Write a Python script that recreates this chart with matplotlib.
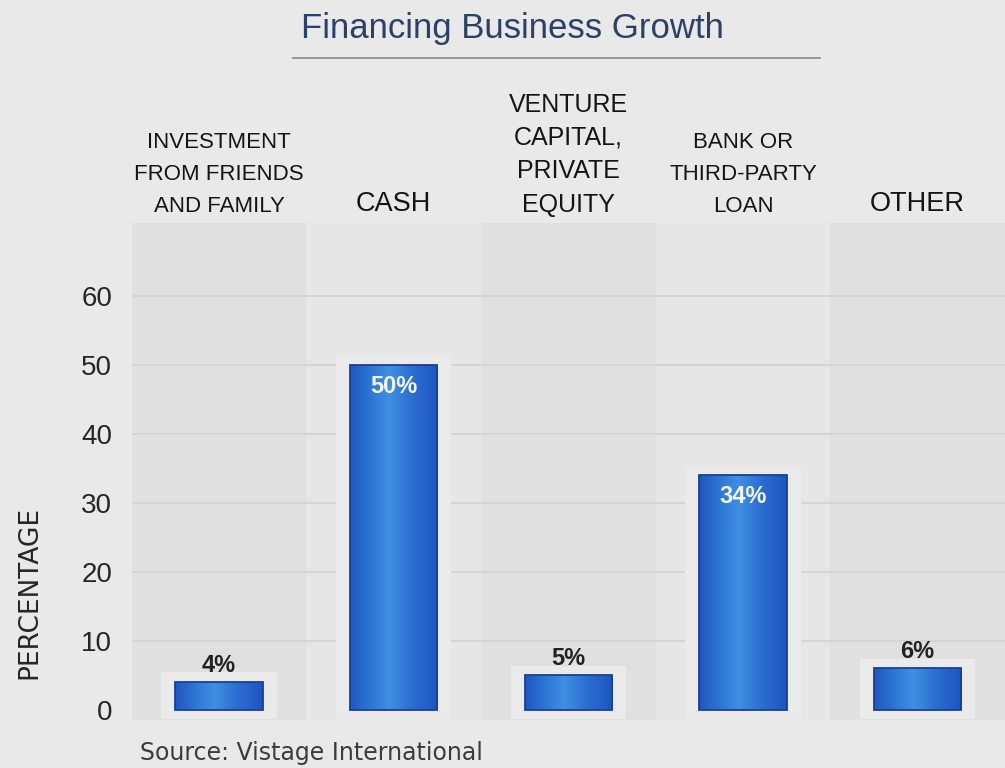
import numpy as np
import matplotlib.pyplot as plt
from matplotlib.colors import LinearSegmentedColormap
from matplotlib.lines import Line2D
from matplotlib.patches import Rectangle

# Data
categories = ['INVESTMENT\nFROM FRIENDS\nAND FAMILY', 'CASH',
              'VENTURE\nCAPITAL,\nPRIVATE\nEQUITY',
              'BANK OR\nTHIRD-PARTY\nLOAN', 'OTHER']
shares = [4, 50, 5, 34, 6]
yticks = [0, 10, 20, 30, 40, 50, 60]

label_sizes = [16, 19.5, 18, 16, 19.5]

bg = '#e9e9e9'
fig = plt.figure(figsize=(10.05, 7.68), dpi=100, facecolor=bg)
ax = fig.add_axes([0.131, 0.0625, 0.869, 0.6465])
ax.set_facecolor(bg)

x = np.arange(len(shares))

# alternating column bands
for i in x:
    ax.axvspan(i - 0.5, i + 0.5, color='#e0e0e0' if i % 2 == 0 else '#e6e6e6',
               lw=0, zorder=0)

# faint grid
for t in yticks[1:]:
    ax.axhline(t, color='#d3d3d3', lw=1.3, zorder=1)

# light halo box behind each bar
for i, v in zip(x, shares):
    ax.add_patch(Rectangle((i - 0.33, -1.4), 0.66, v + 2.8,
                           facecolor='#eaeaea', edgecolor='none', zorder=1.5))

bars = ax.bar(x, shares, width=0.5, color='none', edgecolor='#1a3f95',
              lw=1.3, zorder=4)

# horizontal gradient fill for the bars
cmap = LinearSegmentedColormap.from_list(
    'barblue', [(0, '#2056c2'), (0.25, '#2f78d6'), (0.45, '#3f8fe2'),
                (0.7, '#2c6fd2'), (1, '#1e54c0')])
grad = np.linspace(0, 1, 256).reshape(1, -1)
for b in bars:
    x0, w, h = b.get_x(), b.get_width(), b.get_height()
    im = ax.imshow(grad, cmap=cmap, aspect='auto', extent=(x0, x0 + w, 0, h),
                   zorder=3, interpolation='bicubic')
    im.set_clip_path(b)
ax.set_xlim(-0.5, len(shares) - 0.5)
ax.set_ylim(-1.5, 70.5)

# value labels
for i, v in zip(x, shares):
    if v > 20:
        ax.annotate(f'{v}%', (i, v), xytext=(0, -7), textcoords='offset points',
                    ha='center', va='top', fontsize=17, fontweight='bold',
                    color='#f4f6fa', family='Liberation Sans', zorder=5)
    else:
        ax.annotate(f'{v}%', (i, v), xytext=(0, 4), textcoords='offset points',
                    ha='center', va='bottom', fontsize=17, fontweight='bold',
                    color='#222222', family='Liberation Sans', zorder=5)

# category headers above the plot, 32 px between lines
for i, (cat, fs) in enumerate(zip(categories, label_sizes)):
    ls = 32 / (fs * 100 / 72 * 0.86)
    ax.annotate(cat, (i, 1), xycoords=('data', 'axes fraction'),
                xytext=(0, 5), textcoords='offset points', ha='center',
                va='bottom', fontsize=fs, color='#141414',
                family='Liberation Sans', linespacing=ls)

ax.set_xticks([])
ax.set_yticks(yticks)
ax.set_yticklabels([str(t) for t in yticks], fontsize=20, color='#262626',
                   family='Liberation Sans')
ax.tick_params(axis='y', length=0, pad=14)
for s in ax.spines.values():
    s.set_visible(False)

fig.text(0.029, 0.228, 'PERCENTAGE', rotation=90, ha='center', va='center',
         fontsize=19, color='#262626', family='DejaVu Sans')

fig.text(0.51, 0.963, 'Financing Business Growth', ha='center', va='center',
         fontsize=25, color='#2d4068', family='Liberation Sans')
fig.add_artist(Line2D([0.292, 0.816], [0.925, 0.925], color='#8a8a8a', lw=1.2))

fig.text(0.139, 0.02, 'Source: Vistage International', ha='left', va='center',
         fontsize=17, color='#3c3c3c', family='DejaVu Sans')

fig.savefig('out.png', dpi=100, facecolor=bg)
